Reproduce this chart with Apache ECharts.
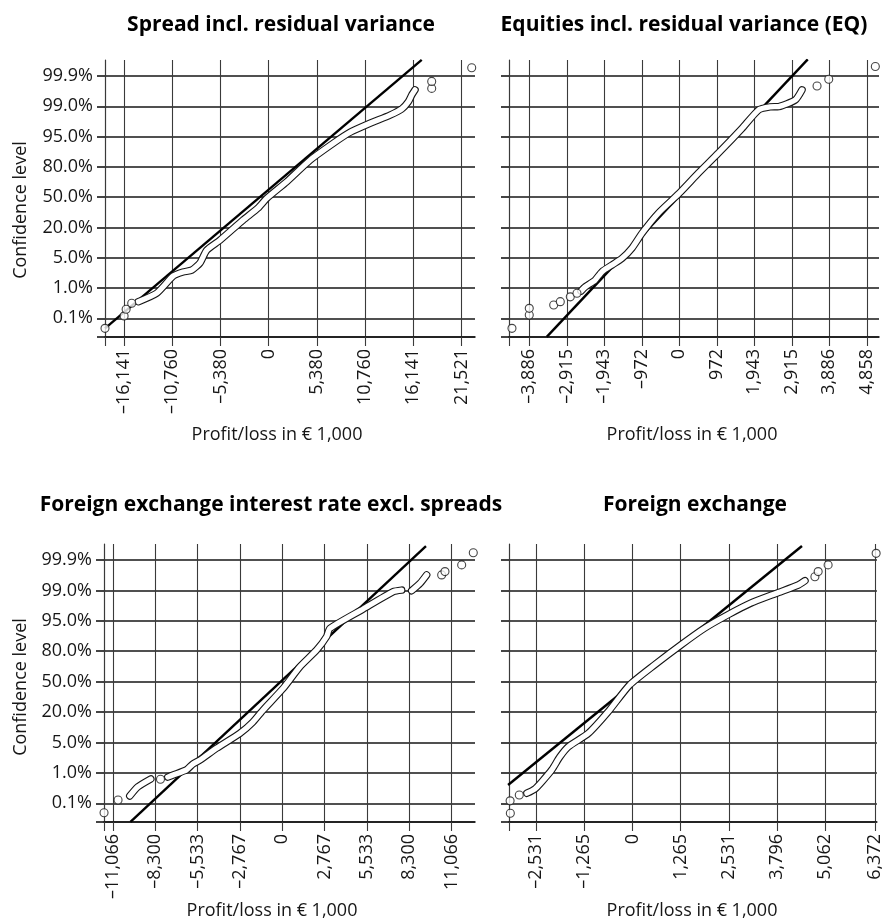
<!DOCTYPE html>
<html>
<head>
<meta charset="utf-8">
<title>Confidence level vs. profit/loss</title>
<script src="https://cdn.jsdelivr.net/npm/echarts@6/dist/echarts.min.js"></script>
<style>
  html, body { margin: 0; padding: 0; background: #fff; }
  #chart { width: 884px; height: 919px; }
</style>
</head>
<body>
<div id="chart"></div>
<script>
// confidence levels, one per horizontal grid line (y axis unit = line index)
const levelLabels = ["0.1%", "1.0%", "5.0%", "20.0%", "50.0%", "80.0%", "95.0%", "99.0%", "99.9%"];

// Spread incl. residual variance
const spreadTicks = [-16141, -10760, -5380, 0, 5380, 10760, 16141, 21521];
const spreadTubeX = [-14541, -12488, -10635, -9553, -8582, -7656, -6908, -5424, -2823, -1183, -212, 2020, 4620, 7221, 9084, 11316, 13548, 14854, 15591, 15970, 16338];
const spreadTubeY = [0.55, 0.83, 1.40, 1.53, 1.59, 1.83, 2.25, 2.58, 3.25, 3.64, 3.96, 4.51, 5.22, 5.78, 6.14, 6.44, 6.71, 6.91, 7.15, 7.37, 7.54];
const spreadDotX = [-18258, -16126, -15900, -15278, 18202, 18202, 22666];
const spreadDotY = [-0.33, 0.08, 0.30, 0.50, 7.59, 7.82, 8.27];
const spreadRefX = [-18258, 17086];
const spreadRefY = [-0.33, 8.53];

// Equities incl. residual variance (EQ)
const eqTicks = [-3886, -2915, -1943, -972, 0, 972, 1943, 2915, 3886, 4858];
const eqTubeX = [-2547, -2436, -2184, -2003, -1744, -1485, -1226, -966, -544, 0, 492, 1010, 1625, 2057, 2350, 2575, 3006, 3179];
const eqTubeY = [0.90, 1.04, 1.26, 1.54, 1.76, 1.98, 2.32, 2.81, 3.47, 4.13, 4.79, 5.45, 6.27, 6.88, 6.98, 6.99, 7.21, 7.54];
const eqDotX = [-4335, -3887, -3887, -3254, -3083, -2824, -2651, 3568, 3871, 5078];
const eqDotY = [-0.33, 0.11, 0.33, 0.44, 0.55, 0.71, 0.83, 7.67, 7.89, 8.31];
const eqRefX = [-3434, 3327];
const eqRefY = [-0.61, 8.55];

// Foreign exchange interest rate excl. spreads (null = gap in the tube)
const fxirTicks = [-11066, -8300, -5533, -2767, 0, 2767, 5533, 8300, 11066];
const fxirTubeX = [-9971, -9448, -8598, null, -7485, -7138, -6262, -5849, -5391, -4299, -2774, -1924, -1250, 59, 1152, 2244, 2899, 3114, 5293, 7256, 7806, null, 8460, 9003, 9441];
const fxirTubeY = [0.24, 0.54, 0.80, null, 0.86, 0.93, 1.10, 1.29, 1.42, 1.81, 2.30, 2.67, 3.07, 3.78, 4.49, 5.04, 5.48, 5.75, 6.39, 6.96, 7.01, null, 6.99, 7.23, 7.51];
const fxirDotX = [-11653, -10737, -7963, 10423, 10639, 11731, 12490];
const fxirDotY = [-0.31, 0.11, 0.79, 7.51, 7.62, 7.84, 8.24];
const fxirRefX = [-9926, 9396];
const fxirRefY = [-0.61, 8.46];

// Foreign exchange
const fxTicks = [-2531, -1265, 0, 1265, 2531, 3796, 5062, 6372];
const fxTubeX = [-2774, -2565, -2382, -2121, -1912, -1685, -1162, -640, -76, 577, 1275, 1883, 2494, 3103, 3834, 4357, 4532];
const fxTubeY = [0.33, 0.47, 0.71, 1.10, 1.52, 1.86, 2.30, 3.01, 3.89, 4.55, 5.21, 5.75, 6.19, 6.58, 6.93, 7.18, 7.32];
const fxDotX = [-3210, -3216, -2975, 4793, 4879, 5140, 6402];
const fxDotY = [-0.33, 0.08, 0.27, 7.45, 7.62, 7.84, 8.22];
const fxRefX = [-3270, 4453];
const fxRefY = [0.60, 8.46];

const FONT = '"Open Sans", "Noto Sans", sans-serif';
const INK = "#161616";
const Y_MIN = -0.616;
const Y_MAX = 8.527;

const panels = [
  { title: "Spread incl. residual variance", ticks: spreadTicks, xMin: -18258, xMax: 23034,
    tubeX: spreadTubeX, tubeY: spreadTubeY, dotX: spreadDotX, dotY: spreadDotY, refX: spreadRefX, refY: spreadRefY,
    grid: { left: 105, top: 60, width: 370, height: 277 }, yLabels: true },
  { title: "Equities incl. residual variance (EQ)", ticks: eqTicks, xMin: -4412, xMax: 5173,
    tubeX: eqTubeX, tubeY: eqTubeY, dotX: eqDotX, dotY: eqDotY, refX: eqRefX, refY: eqRefY,
    grid: { left: 509, top: 60, width: 370, height: 277 }, yLabels: false },
  { title: "Foreign exchange interest rate excl. spreads", ticks: fxirTicks, xMin: -11656, xMax: 12602,
    tubeX: fxirTubeX, tubeY: fxirTubeY, dotX: fxirDotX, dotY: fxirDotY, refX: fxirRefX, refY: fxirRefY,
    grid: { left: 104, top: 544, width: 371, height: 278 }, yLabels: true },
  { title: "Foreign exchange", ticks: fxTicks, xMin: -3245, xMax: 6421,
    tubeX: fxTubeX, tubeY: fxTubeY, dotX: fxDotX, dotY: fxDotY, refX: fxRefX, refY: fxRefY,
    grid: { left: 509, top: 544, width: 370, height: 278 }, yLabels: false }
];

// where the free texts sit (title centre, axis name centre)
const textPos = [
  { title: [281, 25], xName: [277, 435], yName: [21, 210] },
  { title: [684, 25], xName: [692, 435] },
  { title: [271, 505], xName: [272, 911], yName: [21, 687] },
  { title: [695, 505], xName: [692, 911] }
];

function fmtMoney(v) {
  const s = String(Math.abs(Math.round(v))).replace(/\B(?=(\d{3})+(?!\d))/g, ",");
  return (v < 0 ? "\u2013" : "") + s;
}

function pairs(xs, ys) {
  return xs.map((x, i) => (x == null || ys[i] == null) ? ["-", "-"] : [x, ys[i]]);
}

const levelIdx = levelLabels.map((_, i) => i);

const grids = [], xAxes = [], yAxes = [], series = [], graphic = [];

panels.forEach((p, i) => {
  grids.push(p.grid);

  xAxes.push({
    type: "value", gridIndex: i, min: p.xMin, max: p.xMax,
    axisLine: { show: true, onZero: false, lineStyle: { color: INK, width: 1.6 } },
    axisTick: { show: true, length: 9, customValues: [p.xMin].concat(p.ticks), lineStyle: { color: "#3a3a3a", width: 1.1 } },
    axisLabel: { customValues: p.ticks, rotate: 90, margin: 12, formatter: fmtMoney,
      fontFamily: FONT, fontSize: 18, color: INK },
    splitLine: { show: true, lineStyle: { color: "#3a3a3a", width: 1.1 } }
  });

  yAxes.push({
    type: "value", gridIndex: i, min: Y_MIN, max: Y_MAX,
    axisLine: { show: true, onZero: false, lineStyle: { color: "#3a3a3a", width: 1.1 } },
    axisTick: { show: true, length: 8, customValues: [Y_MIN].concat(levelIdx), lineStyle: { color: INK, width: 1.6 } },
    axisLabel: { show: p.yLabels, customValues: levelIdx, margin: 12,
      formatter: v => levelLabels[Math.round(v)], fontFamily: FONT, fontSize: 18, color: INK },
    splitLine: { show: true, lineStyle: { color: INK, width: 1.7 } }
  });

  series.push({
    type: "line", xAxisIndex: i, yAxisIndex: i, symbol: "none", z: 3,
    data: pairs(p.refX, p.refY),
    lineStyle: { color: "#000", width: 2.4 }
  });
  series.push({
    type: "line", xAxisIndex: i, yAxisIndex: i, symbol: "none", smooth: 0.2, z: 4,
    data: pairs(p.tubeX, p.tubeY),
    lineStyle: { color: INK, width: 7.5, cap: "round", join: "round" }
  });
  series.push({
    type: "line", xAxisIndex: i, yAxisIndex: i, symbol: "none", smooth: 0.2, z: 5,
    data: pairs(p.tubeX, p.tubeY),
    lineStyle: { color: "#fff", width: 5.3, cap: "round", join: "round" }
  });
  series.push({
    type: "scatter", xAxisIndex: i, yAxisIndex: i, symbol: "circle", symbolSize: 8, z: 6, clip: false,
    data: pairs(p.dotX, p.dotY),
    itemStyle: { color: "#fff", borderColor: INK, borderWidth: 1.1 }
  });

  const t = textPos[i];
  graphic.push({ type: "text", x: t.title[0], y: t.title[1],
    style: { text: p.title, font: 'bold 21px ' + FONT, fill: "#000", align: "center", verticalAlign: "middle" } });
  graphic.push({ type: "text", x: t.xName[0], y: t.xName[1],
    style: { text: "Profit/loss in \u20ac 1,000", font: '18px ' + FONT, fill: INK, align: "center", verticalAlign: "middle" } });
  if (t.yName) {
    graphic.push({ type: "text", x: t.yName[0], y: t.yName[1], rotation: Math.PI / 2,
      style: { text: "Confidence level", font: '18px ' + FONT, fill: INK, align: "center", verticalAlign: "middle" } });
  }
});

const chart = echarts.init(document.getElementById("chart"));
chart.setOption({
  animation: false,
  backgroundColor: "#fff",
  grid: grids,
  xAxis: xAxes,
  yAxis: yAxes,
  series: series,
  graphic: graphic
});
</script>
</body>
</html>
